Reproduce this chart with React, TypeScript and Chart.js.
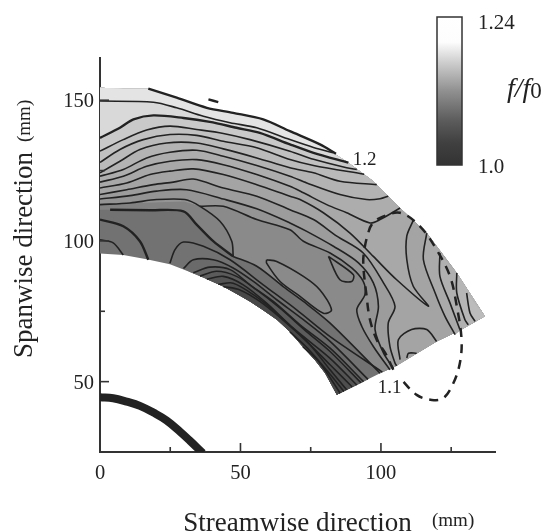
import React, { useEffect, useRef } from "react";
import { Chart, registerables } from "chart.js";

Chart.register(...registerables);

type P = [number, number];

// Measurement-domain boundary (mm)
const OUTER: P[] = [[0, 154.4], [8.3, 154.1], [17.2, 154.1], [27.3, 150.9], [38, 147.3], [47.4, 145.5], [58.1, 143.2], [67.6, 139], [78.3, 134.3], [88.4, 127.8], [97.3, 121.2], [106.8, 111.7], [116.3, 102.8], [127, 88.6], [137, 73.2]];
const BOTTOM: P[] = [[128.7, 68.5], [119.8, 64.3], [105, 55.4], [99.7, 53], [84.3, 45.3]];
const INNER: P[] = [[0, 95.5], [8.3, 95], [16.6, 93.5], [24.9, 91.7], [32, 89], [38, 86.5], [43.9, 83.8], [48.6, 81.2], [53.4, 78.5], [58, 75.5], [63, 72], [67.6, 67.7], [72.2, 62.4], [76.5, 57.7], [80.1, 53.1]];

// Contours of f/f0 (mm)
const C0: P[] = [[17.2, 154.1], [27.3, 150.9], [38, 147.3], [47.4, 145.5], [58.1, 143.2], [67.6, 139], [78.3, 134.3], [84, 131]];
const L0: P[] = [[0, 149.7], [19, 149.3], [27.3, 147.3], [36.8, 144.3], [46.3, 142], [55.8, 140.2], [67.6, 136], [76, 133.2], [83.1, 131.3]];
const L1: P[] = [[0, 136.6], [7.1, 140.2], [11.9, 143.2], [19, 144.6], [29.7, 143.7], [39.1, 142.3], [48.6, 140.2], [56.9, 138.4], [67.6, 134.3], [76, 131.3], [88.4, 127.8]];
const L2: P[] = [[0, 131.9], [8.3, 136], [16.6, 139.4], [24.9, 140.8], [34.4, 139.6], [43.9, 138.2], [53.4, 136], [67.6, 131.9], [76, 129], [87.8, 126], [91.4, 125.4]];
const L3: P[] = [[0, 127.9], [7.1, 132.5], [15.4, 136], [24.9, 137.8], [34.4, 137.5], [43.9, 135.4], [55.8, 133.1], [67.6, 128.9], [76, 126.8], [94, 123.7]];
const L4: P[] = [[0, 124.2], [7.1, 128.3], [14.2, 132.5], [23.7, 134.8], [34.4, 134.8], [43.9, 132.7], [55.8, 129.5], [67.6, 126], [76, 124.2], [85.4, 121.2], [98.5, 120]];
const L5: P[] = [[0, 123], [8.3, 125.4], [16.6, 129.5], [24.9, 131.5], [34.4, 132.2], [43.9, 130.1], [55.8, 126.8], [67.6, 123], [73.6, 120.6], [85.4, 116.5], [94.9, 114.7], [99.7, 115], [102.6, 115.9]];
const L6: P[] = [[0, 120.9], [8.3, 123], [16.6, 126.5], [24.9, 128.3], [34.4, 128.9], [43.9, 127.1], [55.8, 123.6], [67.6, 119.4], [72.4, 117.1], [80.7, 112.9], [87.8, 110], [96.1, 106.4], [99.7, 107.6], [106.8, 111.7]];
const L7: P[] = [[0, 118.8], [9.5, 120.6], [17.8, 123.6], [24.9, 124.8], [33.2, 125.6], [43.9, 123.6], [55.8, 120], [67.6, 115.9], [71.2, 114.7], [79.5, 110], [89, 102.8], [97.3, 94.5], [105.6, 86.2], [116.9, 76.8], [111.5, 83.9], [109.2, 93.4], [109.2, 101.7], [111.5, 107.3]];
const L8: P[] = [[0, 116.5], [9.5, 118.2], [19, 120], [26.1, 120.9], [33.2, 122], [43.9, 118.8], [55.8, 115.9], [67.6, 111.1], [76, 107.6], [84.3, 101.7], [93.7, 95.7], [100.9, 85.1], [105, 76.8], [102.6, 70.8], [103.2, 62.5], [105, 56.6], [105.6, 55.6]];
const L9: P[] = [[0, 114.9], [10.7, 116.1], [20.2, 117.7], [30.8, 118.2], [43.9, 114.9], [55.8, 111.4], [67.6, 106.4], [73.6, 103.4], [83.1, 98.1], [92, 92.2], [97.3, 85.1], [99.1, 76.8], [97.9, 68.5], [100.9, 60.2], [104.4, 54.8]];
const L9B: P[] = [[35.6, 112.3], [43.9, 112.3], [55.8, 107.6], [67.6, 104], [72.4, 99.9], [81.9, 95.7], [89.6, 90.4], [93.7, 85.6], [94.3, 80.9], [91.4, 75.6], [93.2, 69.6], [97.3, 62.5], [103.2, 54.2]];
const L10: P[] = [[0, 112.9], [10.7, 113.5], [20.2, 114.7], [30.2, 114.7], [35.6, 112.3], [42.7, 107], [46.9, 99.9], [47.4, 94.5]];
const L11A: P[] = [[3.6, 111.1], [17.8, 110.9], [29.7, 110.5], [34.4, 105.8], [40.3, 99.9], [47.4, 94.5]];
const L11B: P[] = [[47.4, 94.5], [55.8, 91], [65.2, 83.8], [72.4, 78.5], [81.9, 70.8], [99.7, 53]];
const L12: P[] = [[0, 107.6], [8.3, 105.2], [14.2, 99.9], [17.2, 93.3]];
const L13: P[] = [[0, 100.4], [4.7, 99.3], [8.3, 95]];
const TOP_DASH: P[] = [[38.6, 150.3], [42.1, 149.3]];
const TONGUE: P[] = [[59.3, 93.3], [62.9, 92.7], [72.4, 87.4], [78.3, 82.6], [82.4, 75.5], [79.5, 74.3], [71.2, 80.3], [64.1, 85.6], [59.3, 92.1], [59.3, 93.3]];
const LOOP: P[] = [[81.3, 94.5], [90.2, 88], [89.6, 85.6], [85.4, 86.2], [81.3, 94.5]];
const R1: P[] = [[116.3, 102.8], [115.1, 93.4], [119.3, 81.5], [122.8, 73.2], [126.4, 66.7]];
const R2: P[] = [[121, 95.7], [121, 87.4], [124.6, 77.9], [128.1, 68.5]];
const R3: P[] = [[127, 88.6], [127, 81.5], [129.9, 72], [131.1, 70.2]];
const R4: P[] = [[130.5, 81.5], [131.7, 74.4], [133.5, 71.4]];
const HOOK1: P[] = [[106.8, 57.8], [106.2, 64.9], [110.9, 68.5], [116.3, 68.5], [119.8, 64.3]];
const HOOK2: P[] = [[109.2, 58.4], [109.8, 60.1], [112.7, 60.1]];
const S0: P[] = [[24.9, 92.1], [26.7, 96.9], [29.7, 99.6], [36.8, 98.1], [46.3, 93.3], [58.1, 84.4], [70, 75.5], [81.9, 66], [100.5, 53.4]];
const S1: P[] = [[29.7, 90.2], [33.2, 93.3], [40.3, 93.3], [47.4, 90.4], [54.6, 85.6], [62.9, 79.1], [72.4, 72], [81.9, 64.3], [95.4, 50.8]];
const S2: P[] = [[33.2, 88.7], [39.1, 90.7], [46.3, 89.8], [53.4, 84.4], [61.7, 78.5], [71.2, 70.2], [81.9, 61.9], [93.8, 50]];
const S3: P[] = [[35.6, 87.5], [41.5, 89.2], [48.6, 87.4], [55.8, 82.6], [64.1, 76.1], [73.5, 67.8], [81.9, 60.7], [92.9, 49.6]];
const S4: P[] = [[38, 86.4], [43.9, 87.4], [51, 84.4], [59.3, 77.9], [68.8, 69], [81.9, 58.3], [91.4, 48.8]];
const S5: P[] = [[42.1, 84.6], [47.4, 85], [54.6, 80.9], [62.9, 74.3], [72.4, 65.5], [81.9, 56], [89.8, 48.1]];
const S6: P[] = [[43.9, 83.8], [49.8, 82.6], [56.9, 78.5], [66.4, 70.8], [74.7, 63.1], [81.9, 54.2], [87.8, 47.1]];
const S7: P[] = [[67.6, 67.7], [74.7, 61], [81.9, 52.6], [86.8, 46.5]];
const S8: P[] = [[72.2, 62.4], [78, 57], [85.5, 45.9]];

// Dashed boundary and the solid arc (mm)
const DASHED: P[] = [[104.4, 54.2], [101.5, 60.2], [98.5, 64.9], [96.1, 72], [94.9, 80.3], [93.7, 92.2], [94.3, 98.1], [95.5, 102.9], [96.7, 105.8], [99.7, 108.2], [106.8, 110], [113.9, 105.2], [119.8, 96.9], [124.6, 87.4], [127, 76.8], [128.7, 64.9], [128.1, 56.6], [125.8, 49.5], [122.2, 44.1], [118.1, 43.5], [112.7, 45.3], [106.8, 51.3]];
const ARC: P[] = [[0, 44.5], [4.7, 44.1], [9.5, 42.9], [14.2, 41.4], [19, 39], [23.7, 36.2], [28.5, 32.2], [32, 29], [36.6, 24.6]];

const X_RANGE = [0, 140.6];
const Y_RANGE = [25, 165];
const TICK_STEP = 25;
const LABEL_STEP = 50;
const CONTOUR_LABELS: { text: string; at: P }[] = [
  { text: "1.2", at: [90, 128.9] },
  { text: "1.1", at: [98.9, 47.8] },
];
const COLORBAR_MAX = "1.24";
const COLORBAR_MIN = "1.0";
const X_TITLE = "Streamwise direction";
const Y_TITLE = "Spanwise direction";
const UNIT = "(mm)";

const SERIF = '"Liberation Serif"';
const INK = "#222";

const toXY = (pts: P[]) => pts.map(([x, y]) => ({ x, y }));
const endX = (l: P[]) => l[l.length - 1][0];
const aboveToOuter = (l: P[]): P[] => [...l, ...OUTER.filter((p) => p[0] < endX(l)).reverse()];
const aboveToBottom = (l: P[]): P[] => [...l, ...BOTTOM.filter((p) => p[0] > endX(l)).reverse(), ...[...OUTER].reverse()];
const rightOf = (l: P[]): P[] => [...l, ...BOTTOM.filter((p) => p[0] > endX(l)).reverse(), ...OUTER.filter((p) => p[0] > l[0][0]).reverse()];
const belowToInner = (l: P[]): P[] => [...l, ...BOTTOM.filter((p) => p[0] < endX(l)), ...INNER.filter((p) => p[0] > l[0][0]).reverse()];

const L11_FULL: P[] = [[0, 111.1], ...L11A, ...L11B.slice(1)];
const L10_FULL: P[] = [...L10, ...L11B.slice(1)];

// Grey bands, in painting order
const BANDS: { pts: P[]; grey: number }[] = [
  { pts: [...OUTER, ...BOTTOM, ...[...INNER].reverse()], grey: 0x72 },
  { pts: aboveToBottom(L11_FULL), grey: 0x82 },
  { pts: aboveToBottom(L10_FULL), grey: 0x8a },
  { pts: aboveToBottom([[0, 113], [30, 114], ...L9B]), grey: 0x94 },
  { pts: aboveToBottom(L9), grey: 0x9c },
  { pts: aboveToBottom(L8), grey: 0xa4 },
  { pts: rightOf(R1), grey: 0xaa },
  { pts: rightOf(R2), grey: 0xb0 },
  { pts: rightOf(R3), grey: 0xb6 },
  { pts: rightOf(R4), grey: 0xbc },
  { pts: aboveToOuter(L7), grey: 0xa8 },
  { pts: aboveToOuter(L6), grey: 0xad },
  { pts: aboveToOuter(L5), grey: 0xb3 },
  { pts: aboveToOuter(L4), grey: 0xba },
  { pts: aboveToOuter(L3), grey: 0xc1 },
  { pts: aboveToOuter(L2), grey: 0xc9 },
  { pts: aboveToOuter(L1), grey: 0xd9 },
  { pts: aboveToOuter(L0), grey: 0xe4 },
  { pts: belowToInner(S1), grey: 0x6a },
  { pts: belowToInner(S2), grey: 0x62 },
  { pts: belowToInner(S3), grey: 0x5b },
  { pts: belowToInner(S4), grey: 0x54 },
  { pts: belowToInner(S5), grey: 0x4e },
  { pts: belowToInner(S6), grey: 0x48 },
];

const THIN = [L0, L2, L3, L4, L5, L6, L7, L8, L9, L9B, L10, L11B, L13, TONGUE, LOOP, R1, R2, R3, R4, HOOK1, HOOK2, S0, S1, S2, S3, S4, S5, S6, S7, S8];
const THICK = [C0, L1, L11A, L12, TOP_DASH];

const frame = {
  id: "frame",
  afterDraw(chart: any) {
    const { ctx, scales } = chart;
    const sx = scales.x;
    const sy = scales.y;
    const area = chart.chartArea;
    ctx.save();
    ctx.strokeStyle = "#333";
    ctx.lineWidth = 1.6;
    for (const t of sx.ticks) {
      const px = sx.getPixelForValue(t.value);
      const len = t.value % LABEL_STEP === 0 ? 9 : 5;
      if (t.value === 0) continue;
      ctx.beginPath();
      ctx.moveTo(px, area.bottom);
      ctx.lineTo(px, area.bottom - len);
      ctx.stroke();
    }
    for (const t of sy.ticks) {
      const py = sy.getPixelForValue(t.value);
      const len = t.value % LABEL_STEP === 0 ? 9 : 5;
      if (t.value === Y_RANGE[0]) continue;
      ctx.beginPath();
      ctx.moveTo(area.left, py);
      ctx.lineTo(area.left + len, py);
      ctx.stroke();
    }

    // contour labels
    ctx.fillStyle = "#222";
    ctx.textBaseline = "middle";
    ctx.textAlign = "left";
    ctx.font = `19px ${SERIF}`;
    for (const l of CONTOUR_LABELS) {
      ctx.fillText(l.text, sx.getPixelForValue(l.at[0]), sy.getPixelForValue(l.at[1]));
    }

    // units
    ctx.font = `19px ${SERIF}`;
    ctx.fillText(UNIT, 432, 521);
    ctx.save();
    ctx.translate(25, 142);
    ctx.rotate(-Math.PI / 2);
    ctx.fillText(UNIT, 0, 0);
    ctx.restore();

    // colour bar
    const g = ctx.createLinearGradient(0, 17, 0, 165);
    g.addColorStop(0, "#ffffff");
    g.addColorStop(0.17, "#fdfdfd");
    g.addColorStop(0.3, "#d0d0d0");
    g.addColorStop(0.5, "#909090");
    g.addColorStop(0.7, "#5c5c5c");
    g.addColorStop(0.85, "#404040");
    g.addColorStop(1, "#333333");
    ctx.fillStyle = g;
    ctx.fillRect(437, 17, 25, 148);
    ctx.strokeStyle = "#333";
    ctx.lineWidth = 1.5;
    ctx.strokeRect(437, 17, 25, 148);

    ctx.fillStyle = "#222";
    ctx.font = `21px ${SERIF}`;
    ctx.fillText(COLORBAR_MAX, 478, 23);
    ctx.fillText(COLORBAR_MIN, 478, 167);

    ctx.textBaseline = "alphabetic";
    ctx.font = `italic 28px ${SERIF}`;
    ctx.fillText("f/f", 507, 97);
    const w = ctx.measureText("f/f").width;
    ctx.font = `23px ${SERIF}`;
    ctx.fillText("0", 507 + w, 98);
    ctx.restore();
  },
};

export default function App() {
  const ref = useRef<HTMLCanvasElement>(null);
  useEffect(() => {
    if (!ref.current) return;
    const base = { type: "scatter", showLine: true, pointRadius: 0, pointHoverRadius: 0 };
    const lines = [
      { ...base, data: toXY(ARC), borderColor: "#222", borderWidth: 8, tension: 0.4, fill: false, borderCapStyle: "butt" },
      { ...base, data: toXY(DASHED), borderColor: "#222", borderWidth: 2.5, borderDash: [9, 7], tension: 0.35, fill: false },
      ...THICK.map((l) => ({ ...base, data: toXY(l), borderColor: INK, borderWidth: 2.4, tension: 0.3, fill: false })),
      ...THIN.map((l) => ({ ...base, data: toXY(l), borderColor: INK, borderWidth: 1.6, tension: 0.3, fill: false })),
    ];
    const fills = BANDS.map((b) => {
      const c = `rgb(${b.grey},${b.grey},${b.grey})`;
      return { ...base, data: toXY(b.pts), borderWidth: 0, borderColor: c, backgroundColor: c, fill: "shape", tension: 0 };
    }).reverse();
    const chart = new Chart(ref.current, {
      type: "scatter",
      data: { datasets: [...lines, ...fills] as any },
      plugins: [frame],
      options: {
        responsive: false,
        animation: false,
        layout: { padding: { top: 58, right: 56, left: 0, bottom: 0 } },
        plugins: { legend: { display: false }, tooltip: { enabled: false } },
        scales: {
          x: {
            type: "linear",
            min: X_RANGE[0],
            max: X_RANGE[1],
            afterFit: (s: any) => { s.height = 80; },
            border: { display: true, color: "#333", width: 2 },
            grid: { drawOnChartArea: false, drawTicks: false },
            ticks: {
              stepSize: TICK_STEP,
              includeBounds: false,
              autoSkip: false,
              maxRotation: 0,
              padding: 9,
              color: "#222",
              font: { family: SERIF, size: 20.5 },
              callback: (v: any) => (v % LABEL_STEP === 0 ? String(v) : ""),
            },
            title: {
              display: true,
              text: X_TITLE,
              color: "#222",
              font: { family: SERIF, size: 27, lineHeight: 0.6 },
              padding: { top: -1, bottom: 0 },
            },
          },
          y: {
            type: "linear",
            min: Y_RANGE[0],
            max: Y_RANGE[1],
            afterFit: (s: any) => { s.width = 100; },
            border: { display: true, color: "#333", width: 2 },
            grid: { drawOnChartArea: false, drawTicks: false },
            ticks: {
              stepSize: TICK_STEP,
              includeBounds: false,
              autoSkip: false,
              padding: 6,
              labelOffset: 1.5,
              color: "#222",
              font: { family: SERIF, size: 20.5 },
              callback: (v: any) => (v % LABEL_STEP === 0 ? String(v) : ""),
            },
            title: {
              display: true,
              text: Y_TITLE,
              color: "#222",
              font: { family: SERIF, size: 27, lineHeight: 1 },
              padding: { top: 11, bottom: 0 },
            },
          },
        },
      } as any,
    });
    return () => chart.destroy();
  }, []);
  return (
    <div style={{ position: "absolute", left: 0, top: 0, width: 551, height: 532, background: "#fff" }}>
      <canvas ref={ref} width={551} height={532} style={{ display: "block" }} />
    </div>
  );
}
